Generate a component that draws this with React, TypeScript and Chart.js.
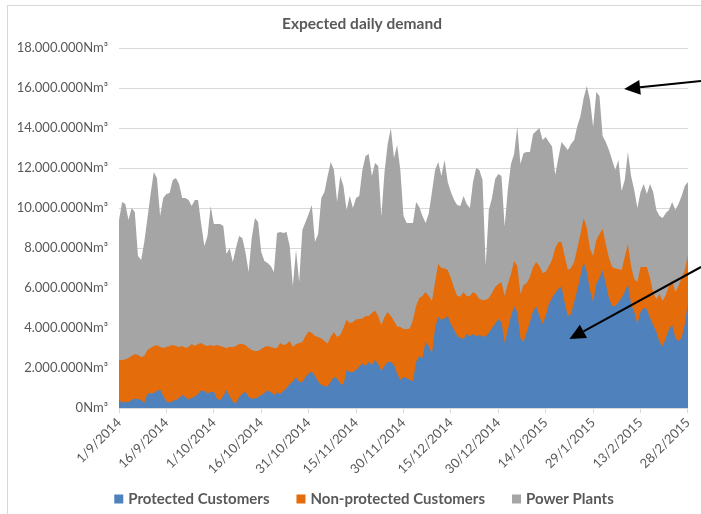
import React, { useEffect, useRef } from 'react';
import { Chart, registerables } from 'chart.js';

Chart.register(...registerables);

// Daily categories 1/9/2014 .. 28/2/2015
const START_UTC = Date.UTC(2014, 8, 1);
const DAY_COUNT = 181;
const categories: string[] = Array.from({ length: DAY_COUNT }, (_, i) => {
  const d = new Date(START_UTC + i * 86400000);
  return `${d.getUTCDate()}/${d.getUTCMonth() + 1}/${d.getUTCFullYear()}`;
});

const tickLabels = [
  '1/9/2014', '16/9/2014', '1/10/2014', '16/10/2014', '31/10/2014', '15/11/2014',
  '30/11/2014', '15/12/2014', '30/12/2014', '14/1/2015', '29/1/2015', '13/2/2015', '28/2/2015',
];

const yTicks = [0, 2, 4, 6, 8, 10, 12, 14, 16, 18]; // millions Nm³

// Values in millions of Nm³
const protectedCustomers = [
  0.4, 0.27, 0.3, 0.3, 0.4, 0.48, 0.45, 0.4, 0.25, 0.73,
  0.73, 0.75, 0.85, 0.93, 0.6, 0.33, 0.28, 0.35, 0.4, 0.5,
  0.65, 0.55, 0.43, 0.5, 0.57, 0.7, 0.88, 0.85, 0.73, 0.8,
  0.82, 0.45, 0.4, 0.6, 0.9, 0.6, 0.32, 0.23, 0.55, 0.7,
  0.82, 0.55, 0.48, 0.48, 0.55, 0.65, 0.75, 0.87, 0.8, 0.65,
  0.77, 0.7, 0.85, 1.0, 1.2, 1.32, 1.55, 1.3, 1.3, 1.55,
  1.73, 1.82, 1.6, 1.32, 1.15, 1.1, 1.07, 1.32, 1.55, 1.48,
  1.23, 1.15, 1.9, 1.8, 1.8, 1.9, 2.07, 2.23, 2.1, 2.3,
  2.15, 2.4, 2.2, 1.85, 2.1, 2.3, 2.3, 2.15, 1.73, 1.4,
  1.55, 1.5, 1.4, 1.35, 2.3, 2.6, 2.5, 3.3, 3.1, 2.7,
  4.0, 4.55, 4.4, 4.48, 4.6, 4.2, 3.9, 3.6, 3.5, 3.45,
  3.7, 3.57, 3.7, 3.6, 3.65, 3.57, 3.57, 3.75, 4.0, 4.2,
  4.45, 4.3, 3.25, 3.9, 4.6, 5.07, 4.8, 3.5, 3.3, 3.8,
  4.3, 4.85, 5.07, 4.6, 4.2, 4.6, 5.2, 5.5, 5.75, 5.95,
  6.07, 5.25, 4.6, 4.7, 5.3, 5.9, 6.6, 7.3, 6.8, 5.9,
  5.3, 6.2, 6.5, 6.9, 6.2, 5.5, 5.1, 5.1, 5.3, 5.5,
  5.8, 6.2, 5.2, 4.8, 4.2, 4.8, 5.0, 4.95, 4.5, 4.15,
  3.8, 3.3, 3.1, 3.5, 3.95, 4.15, 3.5, 3.35, 3.5, 4.2,
  5.3,
];

const nonProtectedCustomers = [
  2.0, 2.13, 2.12, 2.2, 2.2, 2.22, 2.2, 2.15, 2.35, 2.17,
  2.27, 2.35, 2.3, 2.12, 2.4, 2.72, 2.82, 2.8, 2.7, 2.55,
  2.45, 2.45, 2.62, 2.7, 2.53, 2.5, 2.37, 2.3, 2.37, 2.35,
  2.28, 2.7, 2.7, 2.45, 2.1, 2.45, 2.73, 2.87, 2.65, 2.5,
  2.33, 2.45, 2.42, 2.37, 2.3, 2.3, 2.3, 2.23, 2.25, 2.35,
  2.23, 2.55, 2.3, 2.2, 2.15, 1.73, 1.65, 1.95, 2.0, 2.05,
  2.09, 1.93, 2.0, 2.23, 2.33, 2.25, 2.16, 2.25, 2.25, 2.07,
  2.42, 2.85, 2.5, 2.45, 2.5, 2.52, 2.38, 2.25, 2.5, 2.3,
  2.6, 2.48, 2.4, 2.3, 2.45, 2.5, 2.3, 2.2, 2.34, 2.65,
  2.4, 2.45, 2.58, 3.05, 2.8, 2.9, 3.1, 2.5, 2.5, 2.65,
  2.3, 2.65, 2.6, 2.5, 2.3, 2.3, 2.1, 2.0, 2.08, 2.35,
  1.9, 2.03, 2.1, 2.1, 1.8, 1.83, 1.83, 1.75, 1.75, 1.85,
  1.75, 2.0, 2.35, 2.3, 2.1, 2.28, 2.3, 2.2, 2.85, 2.45,
  2.25, 2.2, 2.23, 2.5, 2.55, 2.2, 1.9, 1.9, 2.25, 2.35,
  2.23, 2.35, 2.3, 2.3, 2.0, 2.1, 2.1, 2.2, 2.2, 2.05,
  2.3, 2.2, 2.2, 2.05, 2.0, 2.0, 1.95, 1.88, 1.65, 1.4,
  1.75, 2.0, 1.9, 1.65, 2.1, 2.25, 2.05, 2.1, 2.0, 1.6,
  1.65, 2.4, 2.25, 2.15, 2.15, 2.25, 2.3, 2.75, 3.0, 2.7,
  2.35,
];

const powerPlants = [
  7.0, 7.9, 7.78, 6.9, 7.4, 7.1, 4.95, 4.85, 5.7, 6.6,
  7.7, 8.7, 8.35, 6.55, 7.5, 7.65, 7.65, 8.25, 8.4, 8.15,
  7.4, 7.5, 7.35, 6.9, 7.3, 7.2, 5.95, 4.95, 5.5, 6.95,
  6.1, 6.05, 6.1, 6.05, 4.7, 4.95, 4.25, 4.9, 5.4, 5.3,
  4.65, 3.8, 5.6, 6.65, 6.45, 4.85, 4.3, 4.15, 4.05, 3.8,
  5.75, 5.55, 5.6, 5.6, 4.75, 3.05, 4.7, 3.05, 5.6, 5.7,
  5.88, 6.4, 4.7, 5.15, 7.02, 7.45, 8.37, 8.73, 8.1, 6.75,
  7.95, 7.1, 5.5, 6.35, 5.7, 6.08, 6.15, 7.42, 8.0, 8.1,
  6.85, 7.37, 7.5, 5.42, 7.25, 8.4, 9.4, 8.15, 9.08, 7.85,
  5.65, 5.3, 5.27, 4.85, 5.2, 4.55, 4.0, 3.45, 4.13, 5.45,
  5.6, 5.1, 4.6, 5.42, 4.4, 4.3, 4.4, 4.55, 4.52, 4.8,
  4.6, 4.4, 5.5, 6.3, 6.45, 6.0, 1.7, 4.4, 4.75, 5.4,
  5.5, 5.3, 3.47, 4.7, 5.5, 5.35, 6.97, 6.5, 6.6, 6.55,
  6.25, 6.65, 6.55, 6.9, 6.65, 6.75, 6.2, 5.67, 3.65, 4.2,
  5.0, 5.5, 6.0, 6.2, 6.1, 6.1, 5.9, 6.0, 7.1, 7.45,
  6.45, 7.4, 6.9, 4.65, 5.1, 5.4, 5.35, 4.92, 5.45, 3.95,
  3.85, 4.6, 4.5, 4.45, 3.7, 3.75, 4.15, 3.65, 4.7, 5.05,
  4.45, 3.9, 4.15, 4.1, 3.8, 3.9, 4.1, 4.1, 4.1, 4.2,
  3.65,
];

const BLUE = '#4f81bd';
const ORANGE = '#e46c0a';
const GREY = '#a5a5a5';
const TEXT = '#595959';
const GRID = '#d9d9d9';
const FONT = 'Lato, "Open Sans", sans-serif';
const CENTER_X = 362;

const fmt = (v: number) => {
  const n = Math.round(v * 1000000);
  return n.toString().replace(/\B(?=(\d{3})+(?!\d))/g, '.') + 'Nm³';
};

function drawArrow(ctx: CanvasRenderingContext2D, x1: number, y1: number, x2: number, y2: number) {
  const ang = Math.atan2(y2 - y1, x2 - x1);
  const headLen = 16;
  const headW = 7.5;
  const bx = x2 - headLen * Math.cos(ang);
  const by = y2 - headLen * Math.sin(ang);
  ctx.save();
  ctx.strokeStyle = '#000';
  ctx.fillStyle = '#000';
  ctx.lineWidth = 2;
  ctx.beginPath();
  ctx.moveTo(x1, y1);
  ctx.lineTo(bx, by);
  ctx.stroke();
  ctx.beginPath();
  ctx.moveTo(x2, y2);
  ctx.lineTo(bx + headW * Math.sin(ang), by - headW * Math.cos(ang));
  ctx.lineTo(bx - headW * Math.sin(ang), by + headW * Math.cos(ang));
  ctx.closePath();
  ctx.fill();
  ctx.restore();
}

const decorPlugin = {
  id: 'decor',
  beforeDraw(chart: any) {
    const ctx = chart.ctx as CanvasRenderingContext2D;
    ctx.save();
    ctx.fillStyle = '#ffffff';
    ctx.fillRect(0, 0, chart.width, chart.height);
    ctx.strokeStyle = GRID;
    ctx.lineWidth = 1;
    ctx.strokeRect(7.5, 5.5, chart.width + 20, chart.height + 20);
    ctx.restore();
  },
  afterDraw(chart: any) {
    const ctx = chart.ctx as CanvasRenderingContext2D;
    // title
    ctx.save();
    ctx.fillStyle = TEXT;
    ctx.font = `bold 15.5px ${FONT}`;
    ctx.textAlign = 'center';
    ctx.textBaseline = 'middle';
    ctx.fillText('Expected daily demand', CENTER_X, 24);
    ctx.restore();

    // legend
    ctx.save();
    ctx.font = `bold 15px ${FONT}`;
    ctx.textBaseline = 'middle';
    ctx.textAlign = 'left';
    const box = 9;
    const gapBoxText = 5;
    const gapItems = 27;
    const items = chart.data.datasets.map((ds: any) => ({
      label: ds.label as string,
      color: ds.backgroundColor as string,
      w: ctx.measureText(ds.label).width,
    }));
    const total = items.reduce((s: number, it: any) => s + box + gapBoxText + it.w, 0) + gapItems * (items.length - 1);
    let x = CENTER_X + 2 - total / 2;
    const y = 499;
    for (const it of items) {
      ctx.fillStyle = it.color;
      ctx.fillRect(x, y - box / 2, box, box);
      ctx.fillStyle = TEXT;
      ctx.fillText(it.label, x + box + gapBoxText, y);
      x += box + gapBoxText + it.w + gapItems;
    }
    ctx.restore();

    // annotation arrows
    const xs = chart.scales.x;
    const ys = chart.scales.y;
    drawArrow(ctx, chart.width, ys.getPixelForValue(16.35), xs.getPixelForValue(159.8), ys.getPixelForValue(15.95));
    drawArrow(ctx, chart.width, ys.getPixelForValue(7.05), xs.getPixelForValue(142.5), ys.getPixelForValue(3.45));
  },
};

export default function App() {
  const ref = useRef<HTMLCanvasElement>(null);
  useEffect(() => {
    document.body.style.margin = '0';
    const chart = new Chart(ref.current as HTMLCanvasElement, {
      type: 'line',
      data: {
        labels: categories,
        datasets: [
          { label: 'Protected Customers', data: protectedCustomers, backgroundColor: BLUE, borderColor: BLUE, fill: 'origin' },
          { label: 'Non-protected Customers', data: nonProtectedCustomers, backgroundColor: ORANGE, borderColor: ORANGE, fill: 'origin' },
          { label: 'Power Plants', data: powerPlants, backgroundColor: GREY, borderColor: GREY, fill: 'origin' },
        ],
      },
      options: {
        responsive: false,
        animation: false,
        events: [],
        layout: { padding: { left: 0, right: 11, top: 48, bottom: 0 } },
        elements: { point: { radius: 0 }, line: { borderWidth: 0, tension: 0 } },
        scales: {
          x: {
            offset: false,
            grid: {
              drawOnChartArea: false,
              drawTicks: true,
              tickLength: 5,
              color: (c: any) => (tickLabels.includes(categories[c.index]) ? GRID : 'rgba(0,0,0,0)'),
            },
            border: { display: true, color: GRID },
            ticks: {
              autoSkip: false,
              maxRotation: 45,
              minRotation: 45,
              padding: 2,
              color: TEXT,
              font: { family: FONT, size: 13 },
              callback: (_v: any, i: number) => (tickLabels.includes(categories[i]) ? categories[i] : ''),
            },
            afterFit: (s: any) => { s.height = 106; },
          },
          y: {
            stacked: true,
            min: 0,
            max: 18,
            afterBuildTicks: (s: any) => { s.ticks = yTicks.map((v) => ({ value: v })); },
            grid: { color: GRID, drawTicks: false },
            border: { display: false },
            ticks: {
              padding: 11,
              color: TEXT,
              font: { family: FONT, size: 13 },
              callback: (v: any) => fmt(Number(v)),
            },
            afterFit: (s: any) => { s.width = 119; },
          },
        },
        plugins: {
          legend: { display: false },
          title: { display: false },
          tooltip: { enabled: false },
        },
      },
      plugins: [decorPlugin],
    });
    return () => chart.destroy();
  }, []);
  return <canvas ref={ref} width={701} height={514} style={{ display: 'block' }} />;
}
